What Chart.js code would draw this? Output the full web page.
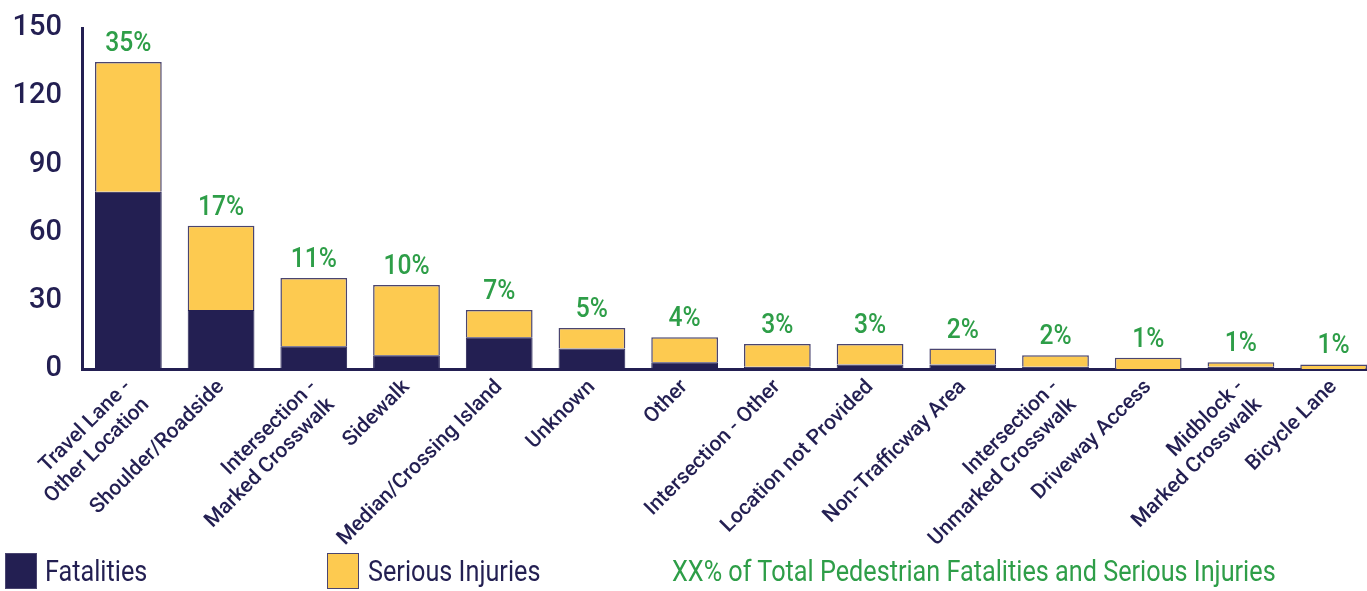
<!DOCTYPE html>
<html>
<head>
<meta charset="utf-8">
<script src="https://cdn.jsdelivr.net/npm/chart.js@4"></script>
<style>
  body { margin: 0; background: #fff; overflow: hidden; }
  #wrap { position: relative; width: 1367px; height: 591px; }
  #chart-box { position: absolute; left: 0; top: 0; width: 1380px; height: 591px; }
  .legend { position: absolute; top: 553px; height: 36px; font-family: 'Roboto', sans-serif; font-size: 29px; line-height: 36px; color: #231f52; transform: scaleX(0.87); transform-origin: left center; white-space: nowrap; }
  .swatch { position: absolute; top: 553px; width: 32px; height: 36px; box-sizing: border-box; border: 1px solid #4a4570; }
</style>
</head>
<body>
<div id="wrap">
  <div id="chart-box"><canvas id="myChart" width="1380" height="591"></canvas></div>
  <div class="swatch" style="left:5px; background:#231f52;"></div>
  <div class="legend" style="left:45px;">Fatalities</div>
  <div class="swatch" style="left:327px; background:#fdca50;"></div>
  <div class="legend" style="left:368px;">Serious Injuries</div>
  <div class="legend" style="left:672px; color:#2e9e48;">XX% of Total Pedestrian Fatalities and Serious Injuries</div>
</div>
<script>
let categories = [
  ['Travel Lane -', 'Other Location'],
  'Shoulder/Roadside',
  ['Intersection -', 'Marked Crosswalk'],
  'Sidewalk',
  'Median/Crossing Island',
  'Unknown',
  'Other',
  'Intersection - Other',
  'Location not Provided',
  'Non-Trafficway Area',
  ['Intersection -', 'Unmarked Crosswalk'],
  'Driveway Access',
  ['Midblock -', 'Marked Crosswalk'],
  'Bicycle Lane'
];
let fatalities = [78, 26, 10, 6, 14, 9, 3, 1, 2, 2, 1, 0, 1, 0];
let seriousInjuries = [57, 37, 30, 31, 12, 9, 11, 10, 9, 7, 5, 5, 2, 2];
let shareLabels = ['35%', '17%', '11%', '10%', '7%', '5%', '4%', '3%', '3%', '2%', '2%', '1%', '1%', '1%'];
let yTicks = [0, 30, 60, 90, 120, 150];

let navy = '#231f52';
let yellow = '#fdca50';
let green = '#2e9e48';
let fontName = "'Roboto', sans-serif";

// writes the XX% text above every stacked bar, a bit narrowed
let shareLabelPlugin = {
  id: 'shareLabels',
  afterDatasetsDraw(chart) {
    let ctx = chart.ctx;
    let meta = chart.getDatasetMeta(1);
    for (let i = 0; i < shareLabels.length; i++) {
      const bar = meta.data[i];
      ctx.save();
      ctx.translate(bar.x, bar.y - 4);
      ctx.scale(0.88, 1);
      ctx.fillStyle = green;
      ctx.font = '500 28px ' + fontName;
      ctx.textAlign = 'center';
      ctx.textBaseline = 'bottom';
      ctx.fillText(shareLabels[i], 0, 0);
      ctx.restore();
    }
  }
};

function renderChart() {
  const ctx = document.getElementById('myChart');

  new Chart(ctx, {
    type: 'bar',
    data: {
      labels: categories,
      datasets: [
        {
          label: 'Fatalities',
          data: fatalities,
          backgroundColor: navy,
          borderColor: navy,
          borderWidth: 1,
          barPercentage: 0.72,
          categoryPercentage: 1
        },
        {
          label: 'Serious Injuries',
          data: seriousInjuries,
          backgroundColor: yellow,
          borderColor: '#4a4570',
          borderWidth: 1.5,
          barPercentage: 0.72,
          categoryPercentage: 1
        }
      ]
    },
    options: {
      responsive: false,
      animation: false,
      layout: { padding: { top: 28, right: 0, bottom: 45, left: 0 } },
      plugins: {
        legend: { display: false },
        tooltip: { enabled: false }
      },
      scales: {
        x: {
          stacked: true,
          grid: { display: false, drawTicks: false },
          border: { color: navy, width: 3 },
          afterFit(scale) {
            scale.height = 177;
            scale.paddingLeft = 0;
            scale.paddingRight = 0;
          },
          ticks: {
            color: navy,
            font: { family: fontName, size: 21, weight: '500' },
            minRotation: 45,
            maxRotation: 45,
            autoSkip: false,
            padding: 6
          }
        },
        y: {
          stacked: true,
          min: 0,
          max: 150,
          afterFit(scale) {
            scale.width = 82;
            scale.paddingTop = 0;
            scale.paddingBottom = 0;
          },
          afterBuildTicks(scale) { scale.ticks = yTicks.map(v => ({ value: v })); },
          grid: { display: false, drawTicks: false },
          border: { color: navy, width: 3 },
          ticks: {
            color: navy,
            font: { family: fontName, size: 29, weight: '500' },
            padding: 20
          }
        }
      }
    },
    plugins: [shareLabelPlugin]
  });
}

renderChart();
</script>
</body>
</html>
